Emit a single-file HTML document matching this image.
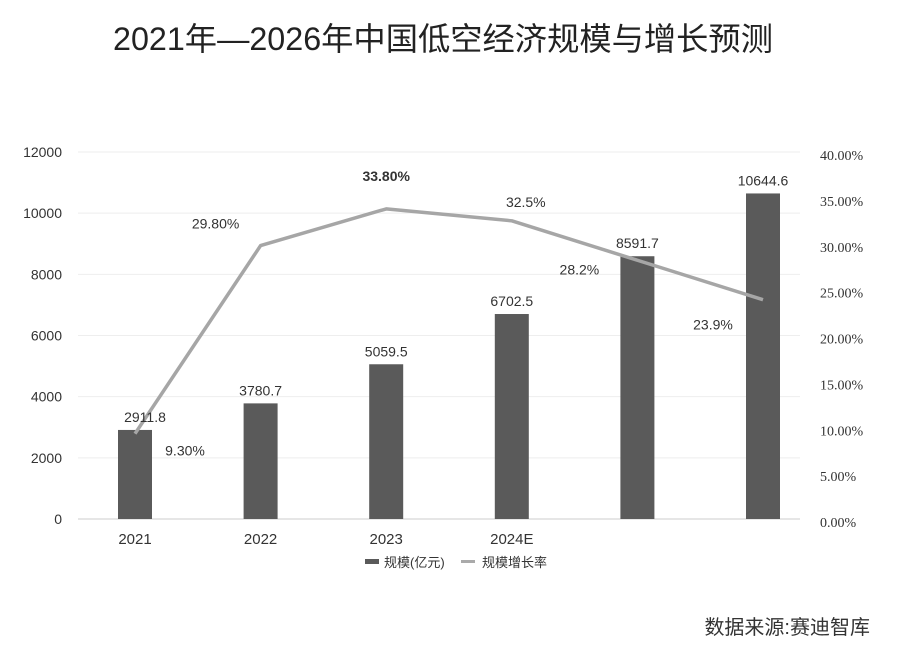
<!DOCTYPE html>
<html><head><meta charset="utf-8">
<style>
html,body{margin:0;padding:0;background:#fff;}
body{width:900px;height:649px;overflow:hidden;font-family:"Liberation Sans","Noto Sans CJK SC",sans-serif;}
text{font-family:"Liberation Sans","Noto Sans CJK SC",sans-serif;}
text.serif{font-family:"Liberation Serif",serif;}
</style></head>
<body>
<svg id="chart" width="900" height="649">
  <text x="443" y="50" text-anchor="middle" font-size="32" fill="#222" textLength="660" lengthAdjust="spacingAndGlyphs">2021年—2026年中国低空经济规模与增长预测</text>
  <g id="grid"></g>
  <g id="bars"></g>
  <g id="line"></g>
  <g id="labels"></g>
  <g>
    <rect x="365" y="559" width="14" height="5" fill="#5a5a5a"/>
    <text x="384" y="567" font-size="13" fill="#333">规模(亿元)</text>
    <rect x="461" y="560" width="14" height="3" fill="#aaa"/>
    <text x="482" y="567" font-size="13" fill="#333">规模增长率</text>
  </g>
  <text x="870" y="634" text-anchor="end" font-size="20" fill="#333">数据来源:赛迪智库</text>
</svg>
<script>
const categories = ["2021","2022","2023","2024E","",""];
const scaleValues = [2911.8,3780.7,5059.5,6702.5,8591.7,10644.6];
const growthValues = [9.3,29.8,33.8,32.5,28.2,23.9];
const growthLabels = ["9.30%","29.80%","33.80%","32.5%","28.2%","23.9%"];
const leftTicks = [0,2000,4000,6000,8000,10000,12000];
const rightTicks = [0,5,10,15,20,25,30,35,40];

const NS="http://www.w3.org/2000/svg";
const y0=519, yTop=152;
const yL=v=>y0-(v/12000)*(y0-yTop);
const yR=v=>y0-(v/40)*(y0-yTop);
const xC=i=>135+i*125.6;
function mk(tag,attrs,parent,txt){const e=document.createElementNS(NS,tag);for(const k in attrs)e.setAttribute(k,attrs[k]);if(txt!==undefined)e.textContent=txt;parent.appendChild(e);return e;}
const grid=document.getElementById('grid'),bars=document.getElementById('bars'),line=document.getElementById('line'),labels=document.getElementById('labels');

leftTicks.forEach(t=>{
  const g=mk('line',{x1:78,x2:800,y1:yL(t),y2:yL(t),stroke:t===0?'#ddd':'#eee','stroke-width':t===0?1.5:1},grid);
  
  
  const l=mk('text',{x:62,y:yL(t)+5,'text-anchor':'end','font-size':14,fill:'#333'},grid,String(t));
  
  
});
rightTicks.forEach(t=>{
  const l=mk('text',{x:820,y:yR(t)+8,'font-size':14,fill:'#333','class':'serif'},grid,t.toFixed(2)+'%');
  
  
});
categories.forEach((c,i)=>{
  const l=mk('text',{x:xC(i),y:544,'text-anchor':'middle','font-size':15,fill:'#333'},grid,c);
  
  
});
scaleValues.forEach((v,i)=>{
  const r=mk('rect',{x:xC(i)-17,y:yL(v),width:34,height:y0-yL(v),fill:'#5a5a5a'},bars);
  
  
  const t=mk('text',{x:xC(i)+(i===0?10:0),y:yL(v)-8,'text-anchor':'middle','font-size':14,fill:'#333'},labels,String(v));
  
  
});
const pts=growthValues.map((v,i)=>xC(i)+','+yR(v)).join(' ');
const pl=mk('polyline',{points:pts,fill:'none',stroke:'#a6a6a6','stroke-width':3.5,'stroke-linejoin':'round'},line);


const off=[[50,22],[-45,-17],[0,-28],[14,-14],[-58,14],[-50,30]];
growthValues.forEach((v,i)=>{
  const t=mk('text',{x:xC(i)+off[i][0],y:yR(v)+off[i][1],'text-anchor':'middle','font-size':14,fill:'#333','font-weight':i===2?'bold':'normal'},labels,growthLabels[i]);
  
  
});
</script>
</body></html>
